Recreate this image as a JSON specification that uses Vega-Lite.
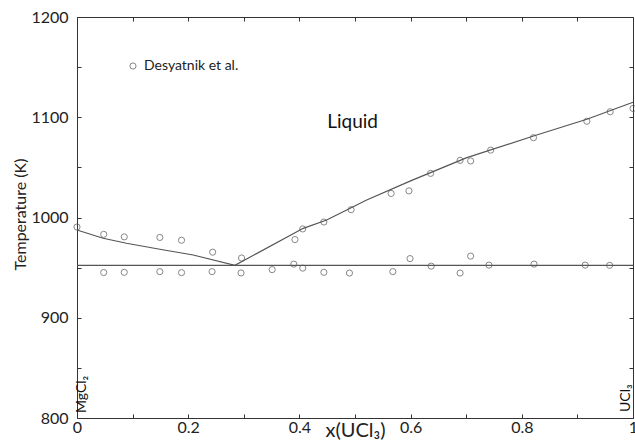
{
  "$schema": "https://vega.github.io/schema/vega-lite/v6.json",
  "width": 556,
  "height": 401,
  "autosize": {"type": "none"},
  "padding": {"left": 77, "top": 17, "right": 2, "bottom": 25},
  "config": {
    "font": "Lato",
    "view": {"stroke": "#333", "strokeWidth": 1},
    "axis": {
      "domain": false,
      "grid": false,
      "tickColor": "#333",
      "tickSize": -4,
      "labelFont": "Lato",
      "labelFontSize": 16,
      "labelColor": "#222",
      "titleFont": "Lato",
      "titleFontWeight": "normal",
      "titleColor": "#222"
    }
  },
  "datasets": {
    "curves": [
      {"x": 0.0, "T": 987.5, "curve": "liquidus"},
      {"x": 0.047, "T": 979.3, "curve": "liquidus"},
      {"x": 0.089, "T": 974.3, "curve": "liquidus"},
      {"x": 0.149, "T": 968.3, "curve": "liquidus"},
      {"x": 0.209, "T": 962.6, "curve": "liquidus"},
      {"x": 0.284, "T": 952.3, "curve": "liquidus"},
      {"x": 0.407, "T": 989.2, "curve": "liquidus"},
      {"x": 0.449, "T": 997.5, "curve": "liquidus"},
      {"x": 0.521, "T": 1017.5, "curve": "liquidus"},
      {"x": 0.6, "T": 1036.5, "curve": "liquidus"},
      {"x": 0.7, "T": 1059.5, "curve": "liquidus"},
      {"x": 0.821, "T": 1081.3, "curve": "liquidus"},
      {"x": 0.917, "T": 1098, "curve": "liquidus"},
      {"x": 1.0, "T": 1115, "curve": "liquidus"},
      {"x": 0.0, "T": 952.3, "curve": "solidus"},
      {"x": 1.0, "T": 952.3, "curve": "solidus"}
    ],
    "obs": [
      {"x": 0.0, "T": 990.5},
      {"x": 0.048, "T": 983.2},
      {"x": 0.085, "T": 980.7},
      {"x": 0.149, "T": 980.1},
      {"x": 0.188, "T": 977.3},
      {"x": 0.244, "T": 965.4},
      {"x": 0.296, "T": 959.6},
      {"x": 0.392, "T": 978},
      {"x": 0.406, "T": 988.6},
      {"x": 0.444, "T": 995.5},
      {"x": 0.493, "T": 1007.8},
      {"x": 0.565, "T": 1024},
      {"x": 0.597, "T": 1026.6},
      {"x": 0.636, "T": 1044},
      {"x": 0.689, "T": 1057},
      {"x": 0.708, "T": 1056.4},
      {"x": 0.744, "T": 1067.2},
      {"x": 0.821, "T": 1079.6},
      {"x": 0.917, "T": 1096},
      {"x": 0.959, "T": 1105.5},
      {"x": 1.0, "T": 1108.8},
      {"x": 0.048, "T": 945.1},
      {"x": 0.085, "T": 945.3},
      {"x": 0.149, "T": 946},
      {"x": 0.188, "T": 945},
      {"x": 0.243, "T": 946},
      {"x": 0.295, "T": 944.7},
      {"x": 0.351, "T": 948},
      {"x": 0.39, "T": 953.5},
      {"x": 0.406, "T": 949.5},
      {"x": 0.444, "T": 945.3},
      {"x": 0.49, "T": 944.6},
      {"x": 0.568, "T": 946},
      {"x": 0.599, "T": 959},
      {"x": 0.637, "T": 951.5},
      {"x": 0.689, "T": 944.6},
      {"x": 0.708, "T": 961.5},
      {"x": 0.741, "T": 952.5},
      {"x": 0.822, "T": 953.5},
      {"x": 0.914, "T": 952.5},
      {"x": 0.958, "T": 952.3}
    ],
    "labels": [
      {"x": 0.45, "T": 1095, "text": "Liquid"}
    ],
    "ends": [
      {"x": 0.017, "T": 805, "text": "MgCl₂"},
      {"x": 0.995, "T": 806, "text": "UCl₃"}
    ]
  },
  "layer": [
    {
      "data": {"name": "curves"},
      "mark": {"type": "line", "color": "#555", "strokeWidth": 1.2},
      "encoding": {
        "x": {
          "field": "x", "type": "quantitative",
          "scale": {"domain": [0, 1], "nice": false, "zero": false},
          "axis": {
            "orient": "bottom",
            "values": [0, 0.1, 0.2, 0.3, 0.4, 0.5, 0.6, 0.7, 0.8, 0.9, 1],
            "labelExpr": "round(datum.value*10)%2==0 ? format(datum.value,'~g') : ''",
            "labelFlush": false,
            "labelPadding": 5,
            "title": "x(UCl₃)",
            "titleFontSize": 20,
            "titleX": 278,
            "titleY": 18,
            "titleBaseline": "alphabetic"
          }
        },
        "y": {
          "field": "T", "type": "quantitative",
          "scale": {"domain": [800, 1200], "nice": false, "zero": false},
          "axis": {
            "orient": "left",
            "values": [800, 850, 900, 950, 1000, 1050, 1100, 1150, 1200],
            "labelExpr": "datum.value%100==0 ? format(datum.value,'d') : ''",
            "labelPadding": 13,
            "title": "Temperature (K)",
            "titleFontSize": 16,
            "titleX": -52,
            "titleY": 197,
            "titleBaseline": "alphabetic"
          }
        },
        "detail": {"field": "curve"}
      }
    },
    {
      "data": {"name": "obs"},
      "mark": {"type": "point", "shape": "circle", "filled": false, "size": 38, "strokeWidth": 1},
      "encoding": {
        "x": {
          "field": "x", "type": "quantitative",
          "axis": {"orient": "top", "values": [0, 0.1, 0.2, 0.3, 0.4, 0.5, 0.6, 0.7, 0.8, 0.9, 1], "labels": false, "title": null}
        },
        "y": {
          "field": "T", "type": "quantitative",
          "axis": {"orient": "right", "values": [800, 850, 900, 950, 1000, 1050, 1100, 1150, 1200], "labels": false, "title": null}
        },
        "color": {
          "datum": "Desyatnik et al.",
          "type": "nominal",
          "scale": {"range": ["#555"]},
          "legend": {
            "orient": "none",
            "legendX": 49,
            "legendY": 42,
            "title": null,
            "labelFont": "Lato",
            "labelFontSize": 14,
            "labelColor": "#222",
            "symbolSize": 38,
            "symbolStrokeWidth": 1,
            "labelOffset": 4
          }
        }
      }
    },
    {
      "data": {"name": "labels"},
      "mark": {"type": "text", "align": "left", "baseline": "middle", "fontSize": 19, "color": "#111", "font": "Lato"},
      "encoding": {
        "x": {"field": "x", "type": "quantitative", "axis": null},
        "y": {"field": "T", "type": "quantitative", "axis": null},
        "text": {"field": "text"}
      }
    },
    {
      "data": {"name": "ends"},
      "mark": {"type": "text", "align": "left", "baseline": "alphabetic", "angle": 270, "fontSize": 14, "color": "#111", "font": "Lato"},
      "encoding": {
        "x": {"field": "x", "type": "quantitative", "axis": null},
        "y": {"field": "T", "type": "quantitative", "axis": null},
        "text": {"field": "text"}
      }
    }
  ],
  "resolve": {"axis": {"x": "independent", "y": "independent"}}
}
